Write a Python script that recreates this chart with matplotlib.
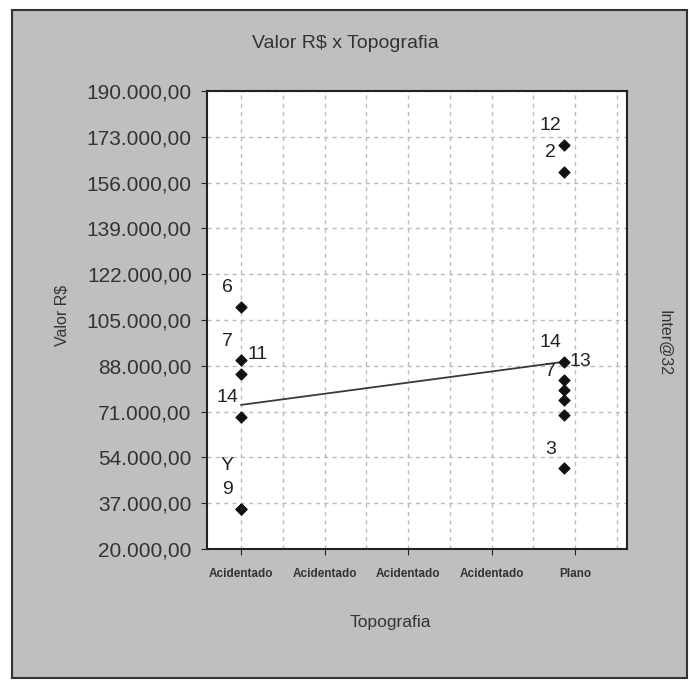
import matplotlib.pyplot as plt
from matplotlib.patches import Rectangle

plt.rcParams['font.family'] = ['Liberation Sans', 'DejaVu Sans']

# categorias do eixo x
categorias = ['Acidentado', 'Acidentado', 'Acidentado', 'Acidentado', 'Plano']

# casos em "Acidentado" (indice 0)
acid_valores = [110000, 90000, 85000, 69000, 35000, 35000]
acid_rotulos = ['6', '7', '11', '14', '9', 'Y']

# casos em "Plano" (indice 4)
plano_valores = [170000, 160000, 89500, 82700, 79000, 75300, 69700, 50000]
plano_rotulos = ['12', '2', '14', '13', '7', '', '', '3']

# linha das medias
media_x = [0, 4]
media_y = [73500, 89500]

yticks = list(range(20000, 190001, 17000))

def fmt_br(v):
    return f'{v:,.2f}'.replace(',', 'X').replace('.', ',').replace('X', '.')

fig = plt.figure(figsize=(6.91, 6.82), dpi=100, facecolor='white')

# moldura cinza externa
fig.patches.append(Rectangle((12 / 691, 4 / 682), 675 / 691, 668 / 682,
                             transform=fig.transFigure, facecolor='#bfbfbf',
                             edgecolor='#333333', lw=1.5, zorder=-5))

ax = fig.add_axes([207 / 691, 1 - 549 / 682, 420 / 691, 458 / 682])
ax.set_facecolor('white')
ax.set_zorder(2)
ax.set_xlim(-0.41, 4.62)
ax.set_ylim(20000, 190000)

shift = -0.13  # pontos de "Plano" aparecem levemente deslocados

# grade tracejada
for gx in [i * 0.5 for i in range(0, 10)]:
    ax.axvline(gx, color='#bcbcbc', lw=1, ls=(0, (3, 3)), zorder=1)
for gy in yticks:
    ax.axhline(gy, color='#bcbcbc', lw=1, ls=(0, (3, 3)), zorder=1)

ax.plot([media_x[0], media_x[1] + shift], media_y, color='#3a3a3a', lw=1.3, zorder=2)

ax.scatter([0] * len(acid_valores), acid_valores, s=30, marker='D', color='#111111', zorder=3)
ax.scatter([4 + shift] * len(plano_valores), plano_valores, s=30, marker='D', color='#111111', zorder=3)

def rotular(x, valores, rotulos):
    # rotulos acima-esquerda do ponto; se colidirem, vai para o outro lado
    vistos = {}
    colocados = []
    for v, r in zip(valores, rotulos):
        n = vistos.get(v, 0)
        vistos[v] = n + 1
        if not r:
            continue
        py = ax.transData.transform((x, v))[1] + 19 + 24 * n
        dx = -14
        for cand in (-14, 16, -34):
            if all(abs(py - qy) >= 21 or qx != cand for qy, qx in colocados):
                dx = cand
                break
        colocados.append((py, dx))
        ax.annotate(r, (x, v), xytext=(dx, 19 + 24 * n), textcoords='offset pixels',
                    ha='center', va='center', fontsize=14, color='#222222', zorder=4)

rotular(0, acid_valores, acid_rotulos)
rotular(4 + shift, plano_valores, plano_rotulos)

ax.set_xticks(range(len(categorias)))
ax.set_xticklabels(categorias, fontsize=8.5, fontweight='bold', color='#333333')
ax.set_yticks(yticks)
ax.set_yticklabels([fmt_br(v) for v in yticks], fontsize=15, color='#333333')
ax.tick_params(axis='y', length=4, pad=7, color='#222222')
ax.tick_params(axis='x', length=4, pad=10, color='#222222')
for s in ax.spines.values():
    s.set_color('#222222')
    s.set_linewidth(1.5)

fig.text(345 / 691, 1 - 43 / 682, 'Valor R$ x Topografia', ha='center', va='center',
         fontsize=14, color='#333333')
fig.text(62 / 691, 1 - 315 / 682, 'Valor R$', ha='center', va='center', rotation=90,
         fontsize=11.5, color='#333333')
fig.text(390 / 691, 1 - 622 / 682, 'Topografia', ha='center', va='center',
         fontsize=12.5, color='#333333')
fig.text(664 / 691, 1 - 343 / 682, 'Inter@32', ha='center', va='center', rotation=-90,
         fontsize=11.5, color='#333333')

plt.savefig('out.png', dpi=100, facecolor='white')
